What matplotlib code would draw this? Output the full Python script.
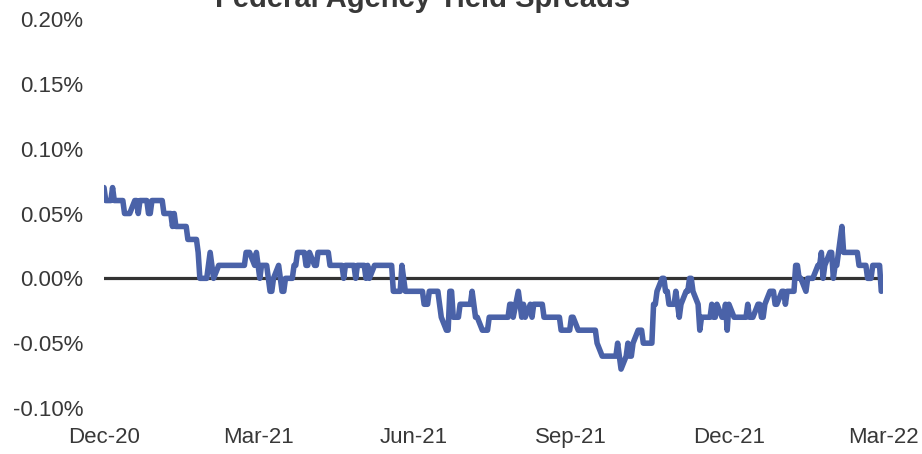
import matplotlib
matplotlib.use("Agg")
import matplotlib.pyplot as plt
import numpy as np
import pandas as pd

plt.rcParams['font.family'] = ['Liberation Sans', 'DejaVu Sans']

# Spread levels (%) and how many business days each level lasts
spread_levels = [
    0.07, 0.06, 0.07, 0.06, 0.05, 0.06, 0.05, 0.06, 0.05, 0.06,
    0.05, 0.04, 0.05, 0.04, 0.03, 0.02, 0.00, 0.01, 0.02, 0.01,
    0.00, 0.01, 0.02, 0.01, 0.02, 0.01, 0.00, 0.01, 0.00, -0.01,
    0.00, 0.01, 0.00, -0.01, 0.00, 0.01, 0.02, 0.01, 0.02, 0.01,
    0.02, 0.01, 0.00, 0.01, 0.00, 0.01, 0.00, 0.01, 0.00, 0.01,
    -0.01, 0.01, 0.00, -0.01, -0.02, -0.01, -0.02, -0.03, -0.04, -0.01,
    -0.03, -0.02, -0.01, -0.02, -0.03, -0.04, -0.03, -0.02, -0.03, -0.01,
    -0.02, -0.03, -0.02, -0.03, -0.02, -0.03, -0.02, -0.03, -0.04, -0.03,
    -0.04, -0.05, -0.06, -0.05, -0.06, -0.07, -0.06, -0.05, -0.06, -0.05,
    -0.04, -0.05, -0.02, -0.01, 0.00, -0.01, -0.02, -0.01, -0.02, -0.03,
    -0.02, -0.01, 0.00, -0.01, -0.02, -0.04, -0.03, -0.02, -0.03, -0.02,
    -0.03, -0.02, -0.04, -0.02, -0.03, -0.02, -0.03, -0.02, -0.03, -0.02,
    -0.01, -0.02, -0.01, -0.02, -0.01, 0.01, 0.00, -0.01, 0.00, 0.01,
    0.02, 0.00, 0.01, 0.02, 0.00, 0.01, 0.04, 0.02, 0.01, 0.00,
    0.01, -0.01,
]
run_days = [
    1, 2, 1, 4, 4, 2, 1, 3, 2, 5,
    3, 1, 1, 5, 4, 1, 3, 1, 1, 1,
    1, 12, 3, 1, 1, 1, 1, 2, 1, 2,
    1, 1, 1, 2, 3, 2, 3, 2, 1, 2,
    5, 6, 1, 4, 1, 3, 1, 1, 1, 9,
    3, 1, 1, 7, 3, 4, 1, 1, 2, 2,
    2, 5, 1, 1, 2, 4, 8, 2, 1, 1,
    1, 1, 1, 1, 1, 1, 4, 8, 4, 2,
    9, 1, 7, 1, 1, 1, 1, 1, 2, 1,
    3, 4, 2, 1, 2, 2, 2, 1, 1, 1,
    1, 2, 2, 1, 1, 1, 4, 1, 2, 1,
    2, 1, 1, 1, 6, 1, 3, 2, 2, 1,
    3, 2, 2, 1, 3, 2, 2, 1, 4, 2,
    1, 1, 1, 2, 1, 2, 1, 7, 3, 3,
    3, 1,
]
start_date = "2020-12-31"
tick_dates = ["2020-12-31", "2021-03-31", "2021-06-30", "2021-09-30", "2021-12-31", "2022-03-31"]
tick_labels = ["Dec-20", "Mar-21", "Jun-21", "Sep-21", "Dec-21", "Mar-22"]
y_ticks = [-0.10, -0.05, 0.00, 0.05, 0.10, 0.15, 0.20]
title = "Federal Agency Yield Spreads"

values = np.repeat(spread_levels, run_days)
dates = pd.bdate_range(start_date, periods=len(values))

W, H = 922, 454
fig = plt.figure(figsize=(W / 100, H / 100), dpi=100)
ax = fig.add_axes([104 / W, 1 - 408 / H, (883 - 104) / W, (408 - 19) / H])

text_color = '#383838'
ax.plot(dates, values, color='#4A62A8', lw=4.0, solid_joinstyle='round',
        solid_capstyle='round', zorder=3)
ax.axhline(0, color='#333333', lw=2.3, zorder=2)

ax.set_ylim(-0.10, 0.20)
ax.set_yticks(y_ticks)
ax.set_yticklabels([f"{v:.2f}%" for v in y_ticks])
ax.set_xlim(pd.Timestamp(tick_dates[0]), pd.Timestamp(tick_dates[-1]))
ax.set_xticks(pd.to_datetime(tick_dates))
ax.set_xticklabels(tick_labels)

for s in ax.spines.values():
    s.set_visible(False)
ax.tick_params(axis='both', length=0, labelsize=16, colors=text_color)
ax.tick_params(axis='y', pad=15)
ax.tick_params(axis='x', pad=14)

fig.text(423 / W, 1 - 7 / H, title, ha='center', va='baseline',
         fontsize=21, fontweight='bold', color=text_color)

fig.savefig("out.png", dpi=100)
